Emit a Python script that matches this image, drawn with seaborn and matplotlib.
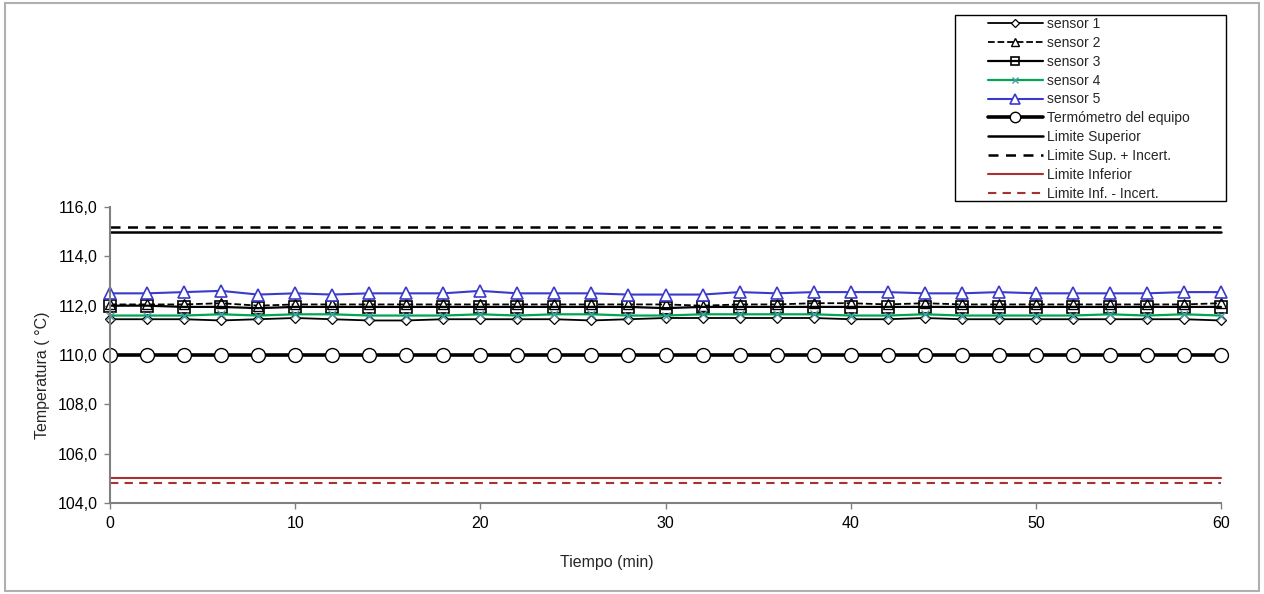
import matplotlib
matplotlib.use("Agg")
import matplotlib.pyplot as plt
import seaborn as sns
import numpy as np
from matplotlib.ticker import FuncFormatter, FixedLocator

tiempo = list(range(0, 62, 2))
sensor1 = [111.45, 111.45, 111.45, 111.4, 111.45, 111.5, 111.45, 111.4, 111.4, 111.45, 111.45, 111.45,
           111.45, 111.4, 111.45, 111.5, 111.5, 111.5, 111.5, 111.5, 111.45, 111.45, 111.5,
           111.45, 111.45, 111.45, 111.45, 111.45, 111.45, 111.45, 111.4]
sensor2 = [112.05, 112.05, 112.05, 112.1, 112.0, 112.05, 112.05, 112.05, 112.05, 112.05, 112.05, 112.05,
           112.05, 112.05, 112.05, 112.05, 112.0, 112.05, 112.05, 112.1, 112.1, 112.05, 112.1,
           112.05, 112.05, 112.05, 112.05, 112.05, 112.05, 112.05, 112.1]
sensor3 = [112.0, 112.0, 111.95, 111.95, 111.9, 111.95, 111.95, 111.95, 111.95, 111.95, 111.95, 111.95,
           111.95, 111.95, 111.95, 111.9, 111.95, 111.95, 111.95, 111.95, 111.95, 111.95, 111.95,
           111.95, 111.95, 111.95, 111.95, 111.95, 111.95, 111.95, 111.95]
sensor4 = [111.6, 111.6, 111.6, 111.65, 111.6, 111.65, 111.65, 111.6, 111.6, 111.6, 111.65, 111.6,
           111.65, 111.65, 111.6, 111.6, 111.65, 111.65, 111.65, 111.65, 111.6, 111.6, 111.65,
           111.6, 111.6, 111.6, 111.6, 111.65, 111.6, 111.65, 111.6]
sensor5 = [112.5, 112.5, 112.55, 112.6, 112.45, 112.5, 112.45, 112.5, 112.5, 112.5, 112.6, 112.5,
           112.5, 112.5, 112.45, 112.45, 112.45, 112.55, 112.5, 112.55, 112.55, 112.55, 112.5,
           112.5, 112.55, 112.5, 112.5, 112.5, 112.5, 112.55, 112.55]
termometro = [110.0] * 31

lim_sup = 115.0
lim_sup_inc = 115.2
lim_inf = 105.0
lim_inf_inc = 104.8
lim_x = [0, 60]

labels = ["sensor 1", "sensor 2", "sensor 3", "sensor 4", "sensor 5",
          "Termómetro del equipo", "Limite Superior", "Limite Sup. + Incert.",
          "Limite Inferior", "Limite Inf. - Incert."]

sns.set_style("white")
plt.rcParams['font.family'] = ['Liberation Sans', 'DejaVu Sans']

W, H = 1264, 594
fig = plt.figure(figsize=(W / 100, H / 100), dpi=100)
ax = fig.add_axes([110 / W, 1 - 503 / H, 1111 / W, 296 / H])

handles = []
def draw(x, y, **kw):
    sns.lineplot(x=x, y=y, ax=ax, legend=False, **kw)
    handles.append(ax.lines[-1])

draw(tiempo, sensor1, color="black", lw=1.3, marker="D", markersize=5.5,
     markerfacecolor="white", markeredgecolor="black", markeredgewidth=0.9)
draw(tiempo, sensor2, color="black", lw=1.3, linestyle="--", marker="^", markersize=7,
     markerfacecolor="white", markeredgecolor="black", markeredgewidth=1.0)
draw(tiempo, sensor3, color="black", lw=1.6, marker="s", markersize=8,
     markerfacecolor="none", markeredgecolor="black", markeredgewidth=1.2)
draw(tiempo, sensor4, color="#00a650", lw=1.6, marker="x", markersize=6,
     markeredgecolor="#4a9aa8", markeredgewidth=1.0)
draw(tiempo, sensor5, color="#3a3acc", lw=1.5, marker="^", markersize=9,
     markerfacecolor="white", markeredgecolor="#3a3acc", markeredgewidth=1.2)
draw(tiempo, termometro, color="black", lw=2.6, marker="o", markersize=10,
     markerfacecolor="white", markeredgecolor="black", markeredgewidth=1.0)
draw(lim_x, [lim_sup, lim_sup], color="black", lw=1.8)
draw(lim_x, [lim_sup_inc, lim_sup_inc], color="black", lw=1.8, linestyle=(0, (4, 3)))
draw(lim_x, [lim_inf, lim_inf], color="#a83232", lw=1.5)
draw(lim_x, [lim_inf_inc, lim_inf_inc], color="#a83232", lw=1.5, linestyle=(0, (4, 3)))

ax.set_xlim(0, 60)
ax.set_ylim(104, 116)
ax.xaxis.set_major_locator(FixedLocator([0, 10, 20, 30, 40, 50, 60]))
ax.yaxis.set_major_locator(FixedLocator([104, 106, 108, 110, 112, 114, 116]))
ax.yaxis.set_major_formatter(FuncFormatter(lambda v, p: f"{v:.1f}".replace(".", ",")))
for side in ["top", "right"]:
    ax.spines[side].set_visible(False)
for side in ["left", "bottom"]:
    ax.spines[side].set_color("#808080")
    ax.spines[side].set_linewidth(1.5)
ax.tick_params(axis="both", direction="out", length=4, width=1, color="#808080",
               labelsize=11.5, labelcolor="black", pad=5)
ax.tick_params(axis="both", which="both", bottom=True, left=True)
ax.set_xlabel("Tiempo (min)", fontsize=11.5)
ax.set_ylabel("Temperatura ( °C)", fontsize=11.5)
ax.xaxis.set_label_coords((607 - 110) / 1111, -(555 - 503) / 296)
ax.yaxis.set_label_coords(-(110 - 50) / 1111, (503 - 375) / 296)
for ln in ax.lines:
    ln.set_clip_on(False)

leg = fig.legend(handles, labels, loc="upper left", bbox_to_anchor=(988 / W, 1 - 17 / H),
                 frameon=False, fontsize=10, handlelength=3.95, markerscale=0.75,
                 borderpad=0, labelspacing=0.35, handletextpad=0.3, borderaxespad=0)

fig.patches.append(plt.Rectangle((955 / W, 1 - 201 / H), (1226 - 955) / W, (201 - 15) / H,
                                 transform=fig.transFigure, fill=False,
                                 edgecolor="black", lw=1.0))
fig.patches.append(plt.Rectangle((5 / W, 3 / H), 1 - 10 / W, 1 - 6 / H, transform=fig.transFigure,
                                 fill=False, edgecolor="#b0b0b0", lw=1.5))

fig.savefig("out.png", dpi=100)
